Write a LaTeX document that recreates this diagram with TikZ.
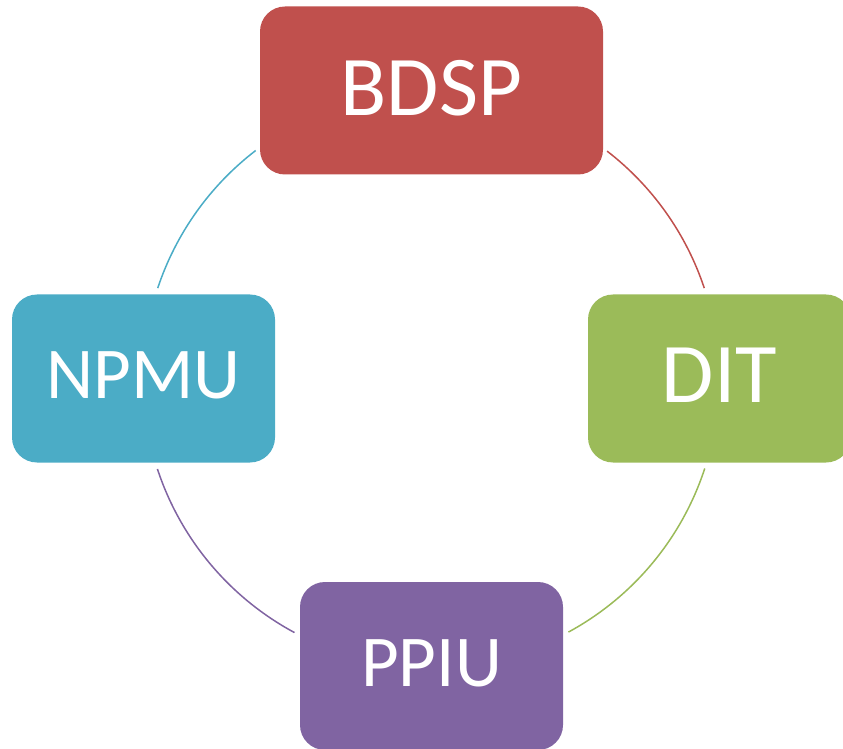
\documentclass[tikz,border=0pt]{standalone}
\usepackage{fontspec}
\setmainfont{Carlito}
\definecolor{cRed}{HTML}{C0504D}
\definecolor{cGreen}{HTML}{9BBB59}
\definecolor{cPurple}{HTML}{8064A2}
\definecolor{cBlue}{HTML}{4BACC6}
\tikzset{
  boxnode/.style={rectangle, rounded corners=25pt, inner sep=0pt,
    minimum width=263pt, minimum height=168pt, text=white, text depth=6pt},
  bigtext/.style={font=\fontsize{85}{100}\selectfont},
  smalltext/.style={font=\fontsize{73}{86}\selectfont},
  cycarc/.style={line width=1.5pt}
}
\begin{document}
\begin{tikzpicture}[x=1pt,y=1pt]
\useasboundingbox (0,0) rectangle (843,748);
\clip (0,0) rectangle (843,748);
\coordinate (ctr) at (431,369);
% boxes
\node[boxnode, bigtext, fill=cRed, minimum width=343pt] (bdsp) at (431.5,657.5) {BDSP};
\node[boxnode, bigtext, fill=cGreen] (dit) at (719.5,369.5) {DIT};
\node[boxnode, smalltext, fill=cPurple] (ppiu) at (431.5,82) {PPIU};
\node[boxnode, smalltext, fill=cBlue] (npmu) at (143.5,369.5) {NPMU};
% arc end points
\path (ctr) ++(52.3:288pt) coordinate (r1);
\path (ctr) ++(-18.1:288pt) coordinate (g1);
\path (ctr) ++(-118.3:288pt) coordinate (p1);
\path (ctr) ++(161.6:288pt) coordinate (b1);
% arcs
\draw[cycarc, cRed] (r1) arc[start angle=52.3, end angle=18.4, radius=288pt];
\draw[cycarc, cGreen] (g1) arc[start angle=-18.1, end angle=-61.5, radius=288pt];
\draw[cycarc, cPurple] (p1) arc[start angle=-118.3, end angle=-161.8, radius=288pt];
\draw[cycarc, cBlue] (b1) arc[start angle=161.6, end angle=127.5, radius=288pt];
\end{tikzpicture}
\end{document}
